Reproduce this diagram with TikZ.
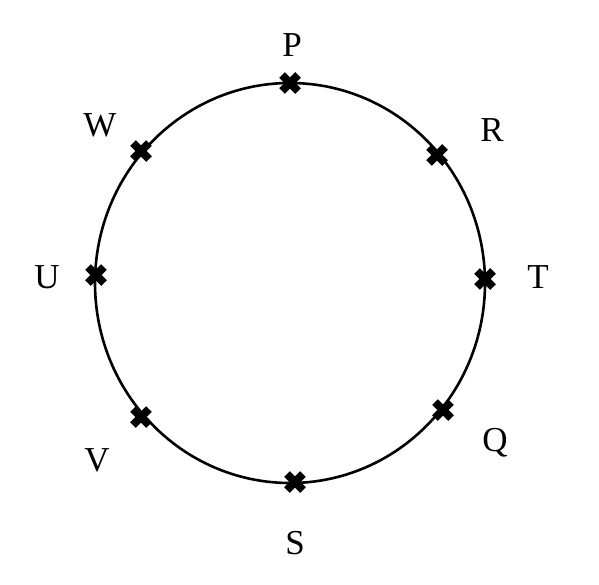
\documentclass[tikz,border=0pt]{standalone}
\usepackage{fontspec}
\setmainfont{Liberation Serif}
\usetikzlibrary{shapes.geometric}
\begin{document}
\begin{tikzpicture}[x=1pt,y=-1pt,
  ring/.style={line width=2.6pt},
  lbl/.style={font=\fontsize{35}{40}\selectfont, inner sep=0pt},
  xmark/.pic={\draw[line width=8pt] (-8,-8) -- (8,8) (-8,8) -- (8,-8);}]
\useasboundingbox (0,0) rectangle (599,584);
\node[draw, ring, ellipse, minimum width=390pt, minimum height=400pt, inner sep=0pt] (c) at (290,283) {};
\coordinate (P) at (290,83);
\coordinate (R) at (437,155);
\coordinate (T) at (485,279);
\coordinate (Q) at (443,410);
\coordinate (S) at (295,482);
\coordinate (V) at (141,417);
\coordinate (U) at (96,275);
\coordinate (W) at (141,151);
\foreach \p in {P,R,T,Q,S,V,U,W} { \pic at (\p) {xmark}; }
\node[lbl] (lP) at (292,45) {P};
\node[lbl] (lR) at (492,130) {R};
\node[lbl] (lT) at (538,277) {T};
\node[lbl] (lQ) at (495,443) {Q};
\node[lbl] (lS) at (295,543) {S};
\node[lbl] (lV) at (97,460) {V};
\node[lbl] (lU) at (47,277) {U};
\node[lbl] (lW) at (100,125) {W};
\end{tikzpicture}
\end{document}
